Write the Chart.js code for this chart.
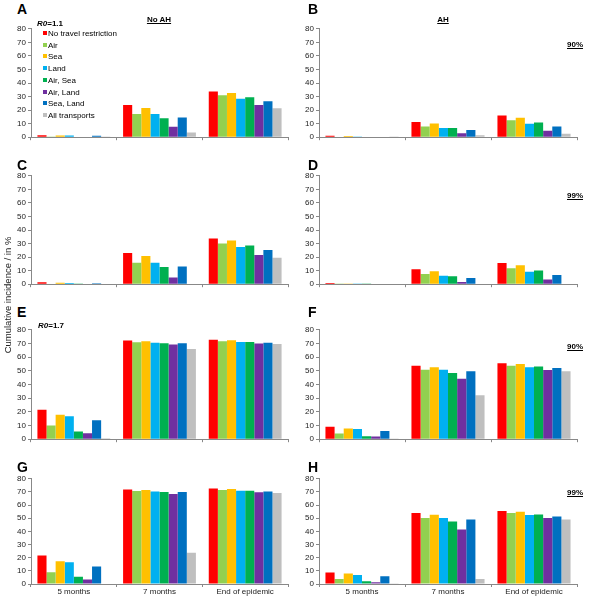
<!DOCTYPE html>
<html>
<head>
<meta charset="utf-8">
<script src="https://cdn.jsdelivr.net/npm/chart.js@4"></script>
<style>
  body { margin: 0; background: #fff; }
  #wrap { position: relative; width: 600px; height: 596px; overflow: hidden; font-family: "Liberation Sans", Arial, sans-serif; color: #000; }
  canvas { position: absolute; }
  .txt { position: absolute; white-space: nowrap; line-height: 1; }
  .letter { font-size: 14px; font-weight: bold; }
  .head { font-size: 8px; font-weight: bold; text-decoration: underline; transform: translateX(-50%); }
  .r0 { font-size: 8px; font-weight: bold; }
  .leg { font-size: 8px; }
  .leg span { display: inline-block; width: 4px; height: 4px; margin-right: 1px; vertical-align: 1px; }
  #ytitle { position: absolute; font-size: 9.5px; color: #222; white-space: nowrap; transform: translate(-50%, -50%) rotate(-90deg); left: 7px; top: 295px; }
</style>
</head>
<body>
<div id="wrap"></div>
<script>
const categories = ['5 months', '7 months', 'End of epidemic'];
const seriesNames = ['No travel restriction', 'Air', 'Sea', 'Land', 'Air, Sea', 'Air, Land', 'Sea, Land', 'All transports'];
const seriesColors = ['#FF0000', '#92D050', '#FFC000', '#00B0F0', '#00B050', '#7030A0', '#0070C0', '#BFBFBF'];
const yTicks = [0, 10, 20, 30, 40, 50, 60, 70, 80];

// values per category (5 months, 7 months, end), one number per series
const panelA = [
  [1.5, 0.5, 1.2, 1.2, 0.4, 0.4, 1.0, 0.1],
  [23.7, 17.1, 21.5, 17.1, 14.0, 7.7, 14.5, 3.4],
  [33.8, 30.9, 32.6, 28.3, 29.5, 23.7, 26.6, 21.3]
];
const panelB = [
  [1.0, 0.3, 0.8, 0.6, 0.3, 0.3, 0.4, 0.2],
  [11.3, 7.9, 10.1, 6.7, 6.7, 2.9, 5.3, 1.4],
  [16.1, 12.5, 14.4, 9.9, 10.8, 4.8, 7.9, 2.6]
];
const panelC = [
  [1.4, 0.3, 1.0, 0.8, 0.2, 0, 0.7, 0],
  [23.1, 15.9, 20.9, 15.9, 12.7, 5.0, 13.0, 0],
  [33.7, 30.0, 32.2, 27.4, 28.6, 21.6, 25.2, 19.5]
];
const panelD = [
  [0.8, 0.2, 0.6, 0.6, 0.2, 0, 0.4, 0],
  [11.1, 7.5, 9.6, 6.3, 5.8, 1.7, 4.6, 0],
  [15.6, 11.8, 13.9, 9.1, 10.1, 3.4, 6.7, 0]
];
const panelE = [
  [21.5, 10.0, 17.9, 16.7, 5.7, 4.3, 13.8, 0.7],
  [72.1, 70.9, 71.6, 70.6, 70.2, 69.2, 70.2, 65.9],
  [72.8, 71.6, 72.3, 71.1, 71.1, 69.9, 70.6, 69.7]
];
const panelF = [
  [9.1, 4.1, 7.9, 7.4, 2.1, 1.9, 6.0, 0.5],
  [53.7, 50.8, 52.7, 50.8, 48.4, 44.2, 49.6, 32.2],
  [55.6, 53.7, 54.9, 52.7, 53.2, 50.6, 52.0, 49.6]
];
const panelG = [
  [21.6, 9.0, 17.3, 16.5, 5.5, 3.5, 13.3, 0.3],
  [71.9, 70.7, 71.4, 70.4, 69.9, 68.4, 69.9, 23.8],
  [72.7, 71.4, 72.2, 70.9, 70.9, 69.7, 70.4, 69.2]
];
const panelH = [
  [8.8, 3.8, 8.0, 6.8, 2.0, 1.3, 5.8, 0.5],
  [53.9, 50.1, 52.6, 50.1, 47.6, 41.4, 49.1, 3.8],
  [55.6, 53.9, 54.9, 52.4, 52.9, 50.1, 51.4, 49.1]
];

const wrap = document.getElementById('wrap');
const FONT = '"Liberation Sans", Arial, sans-serif';

function addText(cls, html, x, y) {
  const d = document.createElement('div');
  d.className = 'txt ' + cls;
  d.innerHTML = html;
  d.style.left = x + 'px';
  d.style.top = y + 'px';
  wrap.appendChild(d);
  return d;
}

// plot box: left, top (value 80), width, height (down to 0)
function makePanel(values, left, top, w, h, showLabels) {
  const yW = 26, padTop = 6, padRight = 8;
  const xH = showLabels ? 596 - (top + h) : 5;
  const cv = document.createElement('canvas');
  cv.style.left = (left - yW) + 'px';
  cv.style.top = (top - padTop) + 'px';
  cv.width = w + yW + padRight;
  cv.height = h + padTop + xH;
  cv.style.width = cv.width + 'px';
  cv.style.height = cv.height + 'px';
  wrap.appendChild(cv);

  new Chart(cv, {
    type: 'bar',
    data: {
      labels: categories,
      datasets: seriesNames.map((name, i) => ({
        label: name,
        data: values.map(c => c[i]),
        backgroundColor: seriesColors[i],
        borderWidth: 0,
        barPercentage: 1.0,
        categoryPercentage: 0.85
      }))
    },
    options: {
      responsive: false,
      animation: false,
      layout: { padding: { top: padTop, right: padRight, left: 0, bottom: 0 } },
      plugins: { legend: { display: false }, tooltip: { enabled: false } },
      scales: {
        x: {
          afterFit: s => { s.height = xH; },
          border: { color: '#888', width: 1 },
          grid: { offset: true, drawOnChartArea: false, tickLength: 3, color: '#888' },
          ticks: { display: showLabels, padding: 0, color: '#222', font: { family: FONT, size: 8 }, maxRotation: 0 }
        },
        y: {
          min: 0, max: 80,
          afterFit: s => { s.width = yW; },
          afterBuildTicks: s => { s.ticks = yTicks.map(v => ({ value: v })); },
          border: { color: '#888', width: 1 },
          grid: { drawOnChartArea: false, tickLength: 3, color: '#888' },
          ticks: { padding: 2, color: '#222', font: { family: FONT, size: 8 } }
        }
      }
    }
  });
}

makePanel(panelA, 31, 28, 257, 111, false);
makePanel(panelB, 319, 28, 258, 111, false);
makePanel(panelC, 31, 175, 257, 111, false);
makePanel(panelD, 319, 175, 258, 111, false);
makePanel(panelE, 31, 329, 257, 112, false);
makePanel(panelF, 319, 329, 258, 112, false);
makePanel(panelG, 31, 478, 257, 106, true);
makePanel(panelH, 319, 478, 258, 106, true);

// panel letters
[['A', 17, 2], ['B', 308, 2], ['C', 17, 158], ['D', 308, 158],
 ['E', 17, 305], ['F', 308, 305], ['G', 17, 460], ['H', 308, 460]]
  .forEach(([t, x, y]) => addText('letter', t, x, y));

addText('head', 'No AH', 159, 16);
addText('head', 'AH', 443, 16);
addText('r0', '<i>R0</i>=1.1', 37, 20);
addText('r0', '<i>R0</i>=1.7', 38, 322);

[['90%', 45], ['99%', 196], ['90%', 347], ['99%', 493]]
  .forEach(([t, y]) => addText('head', t, 575, y - 4));

seriesNames.forEach((name, i) => {
  addText('leg', '<span style="background:' + seriesColors[i] + '"></span>' + name, 43, 30 + i * 11.7);
});

const yt = document.createElement('div');
yt.id = 'ytitle';
yt.textContent = 'Cumulative incidence / in %';
wrap.appendChild(yt);
</script>
</body>
</html>
